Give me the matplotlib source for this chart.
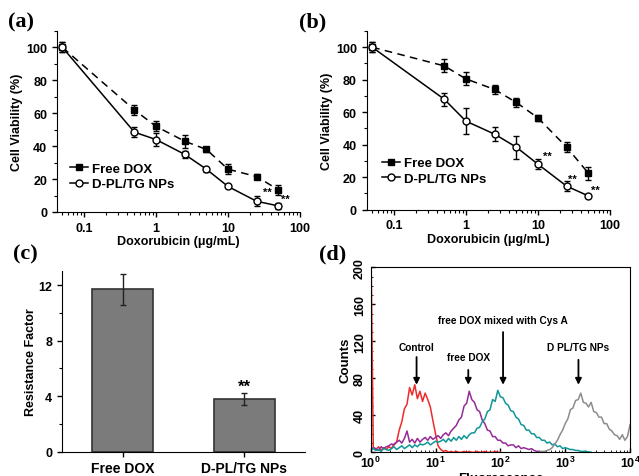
import numpy as np
import matplotlib
matplotlib.use('Agg')
import matplotlib.pyplot as plt
from matplotlib.lines import Line2D
from matplotlib.ticker import FixedLocator, MultipleLocator, LogLocator, NullFormatter

plt.rcParams['font.family'] = ['Liberation Sans', 'DejaVu Sans']
plt.rcParams['font.weight'] = 'bold'
plt.rcParams['axes.labelweight'] = 'bold'
plt.rcParams['mathtext.fontset'] = 'custom'
plt.rcParams['mathtext.rm'] = 'Liberation Sans:bold'
plt.rcParams['mathtext.default'] = 'rm'

# ---- panels (a) and (b): cell viability ----
dose = [0.05, 0.5, 1, 2.5, 5, 10, 25, 50]

a_free = [100, 62, 52, 43, 38, 26, 21.5, 13.5]
a_free_err = [3, 3, 3, 4, 1.5, 3, 1.5, 3]
a_np = [100, 48.5, 44, 35, 26, 15.5, 6.5, 3.7]
a_np_err = [3, 3, 4, 2, 1.5, 1, 3, 2]

b_free = [100, 88.5, 80.5, 74, 66, 56.5, 38.5, 22.5]
b_free_err = [3, 4, 4, 3, 3, 2, 3, 4]
b_np = [100, 68, 54.5, 46.5, 38.5, 28, 14.5, 8.5]
b_np_err = [3, 4, 8, 4.5, 7, 3, 3, 1]

a_stars = [(35, 12), (63, 8)]
b_stars = [(13.6, 33), (30.5, 19), (62, 12.5)]

# ---- panel (c): resistance factor ----
groups = ['Free DOX', 'D-PL/TG NPs']
rf = [11.7, 3.8]
rf_err = [1.1, 0.42]

# ---- panel (d): flow cytometry histograms (log10 channel start, counts every 0.04 decade) ----
step = 0.04
ctrl_start = 0.0
ctrl = [250, 5, 3, 6, 2, 5, 3, 6, 4, 9, 11, 24, 33, 47, 52, 70, 62, 73, 58, 66, 55, 64, 57, 49,
        34, 20, 7, 3, 1, 2, 0, 1, 0, 1, 0, 0, 1, 0, 1, 0, 0, 1, 0, 0, 1, 0, 0, 0, 1, 0, 0]
free_start = 0.0
free = [3, 5, 4, 2, 6, 4, 6, 7, 9, 8, 11, 13, 10, 15, 23, 11, 14, 10, 15, 11, 14, 16, 13, 17,
        14, 16, 18, 15, 19, 21, 18, 23, 26, 29, 35, 38, 50, 53, 66, 57, 54, 46, 44, 35, 31, 24,
        23, 17, 17, 13, 13, 10, 10, 7, 8, 8, 5, 7, 4, 5, 4, 3, 4, 2, 1, 1, 0]
cys_start = 0.0
cys = [2, 4, 2, 3, 1, 4, 3, 2, 4, 6, 3, 5, 7, 4, 6, 8, 5, 8, 6, 9, 8, 9, 11, 8, 10, 12, 11, 12,
       14, 11, 15, 12, 16, 13, 17, 14, 18, 15, 19, 21, 21, 26, 27, 33, 36, 44, 46, 57, 55, 67,
       60, 59, 53, 51, 45, 44, 38, 36, 30, 29, 24, 24, 20, 20, 16, 16, 13, 13, 10, 11, 8, 9, 6,
       7, 4, 5, 4, 3, 3, 2, 2, 1, 1, 1, 0.5, 0]
np_start = 2.60
nps = [0.5, 1, 1, 2, 3, 5, 9, 13, 19, 24, 31, 36, 46, 48, 56, 57, 64, 54, 53, 49, 54, 44, 43,
       38, 38, 31, 31, 25, 23, 19, 18, 14, 19, 13, 17, 30]

hist_labels = ['Control', 'free DOX', 'free DOX mixed with Cys A', 'D PL/TG NPs']
arrow_x = [5.1, 32, 110, 1600]
arrow_tail = [106, 92, 133, 103]
text_y = [114, 103, 143, 114]

fig = plt.figure(figsize=(6.39, 4.77), dpi=100)

def viability(rect, free_v, free_e, np_v, np_e, stars, leg_anchor):
    ax = fig.add_axes(rect)
    ax.errorbar(dose, free_v, yerr=free_e, color='black', ls=(0, (5, 3.5)), lw=1.1,
                marker='s', ms=4.5, capsize=2, elinewidth=1)
    ax.errorbar(dose, np_v, yerr=np_e, color='black', ls='-', lw=1.1, marker='o', ms=5,
                mfc='white', mec='black', capsize=2, elinewidth=1)
    for sx, sy in stars:
        ax.text(sx, sy, '**', ha='center', va='center', fontsize=8)
    ax.set_xscale('log')
    ax.set_xlim(0.042, 100)
    ax.set_ylim(0, 110)
    ax.xaxis.set_major_locator(FixedLocator([0.1, 1, 10, 100]))
    ax.set_xticklabels(['0.1', '1', '10', '100'])
    ax.xaxis.set_minor_locator(LogLocator(base=10, subs=np.arange(2, 10)))
    ax.xaxis.set_minor_formatter(NullFormatter())
    ax.yaxis.set_major_locator(MultipleLocator(20))
    ax.yaxis.set_minor_locator(MultipleLocator(10))
    for s in ['top', 'right']:
        ax.spines[s].set_visible(False)
    ax.tick_params(labelsize=9, width=1, length=3.5)
    ax.tick_params(which='minor', length=2, width=0.8)
    ax.set_ylabel('Cell Viability (%)', fontsize=9, labelpad=2)
    ax.set_xlabel('Doxorubicin (\u03bcg/mL)', fontsize=9, labelpad=1)
    handles = [Line2D([], [], color='black', lw=1.1, marker='s', ms=4.5),
               Line2D([], [], color='black', lw=1.1, marker='o', ms=5, mfc='white')]
    ax.legend(handles, ['Free DOX', 'D-PL/TG NPs'], loc='lower left', bbox_to_anchor=leg_anchor,
              frameon=False, fontsize=9.5, handlelength=1.4, handletextpad=0.3,
              labelspacing=0.25, borderaxespad=0)
    return ax

viability([0.0892, 0.5535, 0.3803, 0.3795], a_free, a_free_err, a_np, a_np_err,
          a_stars, (0.03, 0.09))
viability([0.5739, 0.5583, 0.3807, 0.3747], b_free, b_free_err, b_np, b_np_err,
          b_stars, (0.04, 0.11))

# (c)
axc = fig.add_axes([0.0966, 0.0509, 0.3807, 0.3782])
axc.bar([1, 2], rf, width=0.5, color='#7b7b7b', edgecolor='#333333', linewidth=1.2)
axc.errorbar([1, 2], rf, yerr=rf_err, fmt='none', ecolor='#222222', elinewidth=1, capsize=2)
axc.text(2, 4.75, '**', ha='center', va='center', fontsize=12)
axc.set_xlim(0.5, 2.5)
axc.set_ylim(0, 13)
axc.set_xticks([1, 2])
axc.set_xticklabels(groups, fontsize=10)
axc.yaxis.set_major_locator(MultipleLocator(4))
axc.yaxis.set_minor_locator(MultipleLocator(2))
for s in ['top', 'right']:
    axc.spines[s].set_visible(False)
axc.tick_params(labelsize=9, width=1, length=3.5)
axc.tick_params(axis='x', labelsize=10)
axc.tick_params(which='minor', length=2, width=0.8)
axc.set_ylabel('Resistance Factor', fontsize=9, labelpad=1)

# (d)
axd = fig.add_axes([0.5801, 0.0497, 0.4059, 0.3878])
for start, counts, col in [(ctrl_start, ctrl, '#ee2b2b'), (free_start, free, '#962a96'),
                           (cys_start, cys, '#0f9696'), (np_start, nps, '#8c8c8c')]:
    xs = 10 ** (start + step * np.arange(len(counts)))
    axd.plot(xs, counts, color=col, lw=1.1)
for lab, xa, tail, ty in zip(hist_labels, arrow_x, arrow_tail, text_y):
    axd.annotate('', xy=(xa, 70), xytext=(xa, tail),
                 arrowprops=dict(arrowstyle='-|>', color='black', lw=1.3, mutation_scale=9))
    axd.text(xa, ty, lab, ha='center', va='center', fontsize=7.3)
axd.set_xscale('log')
axd.set_xlim(1, 1e4)
axd.set_ylim(0, 200)
axd.yaxis.set_major_locator(MultipleLocator(40))
axd.yaxis.set_minor_locator(MultipleLocator(10))
axd.xaxis.set_minor_locator(LogLocator(base=10, subs=np.arange(2, 10)))
axd.xaxis.set_minor_formatter(NullFormatter())
axd.tick_params(direction='in', labelsize=9, width=1, length=3)
axd.tick_params(which='minor', direction='in', length=1.5)
axd.tick_params(axis='x', pad=2)
axd.tick_params(axis='y', labelrotation=90)
for lab in axd.get_yticklabels():
    lab.set_va('center')
axd.set_ylabel('Counts', fontsize=9.5, labelpad=2)
axd.set_xlabel('Fluorescence', fontsize=9.5)
axd.xaxis.set_label_coords(0.5, -0.105)

# panel letters
for txt, x, y in [('(a)', 0.012, 0.952), ('(b)', 0.468, 0.952),
                  ('(c)', 0.02, 0.466), ('(d)', 0.5, 0.466)]:
    fig.text(x, y, txt, fontsize=16, fontweight='bold', family='Liberation Serif',
             ha='left', va='center')

fig.savefig('out.png', dpi=100)
